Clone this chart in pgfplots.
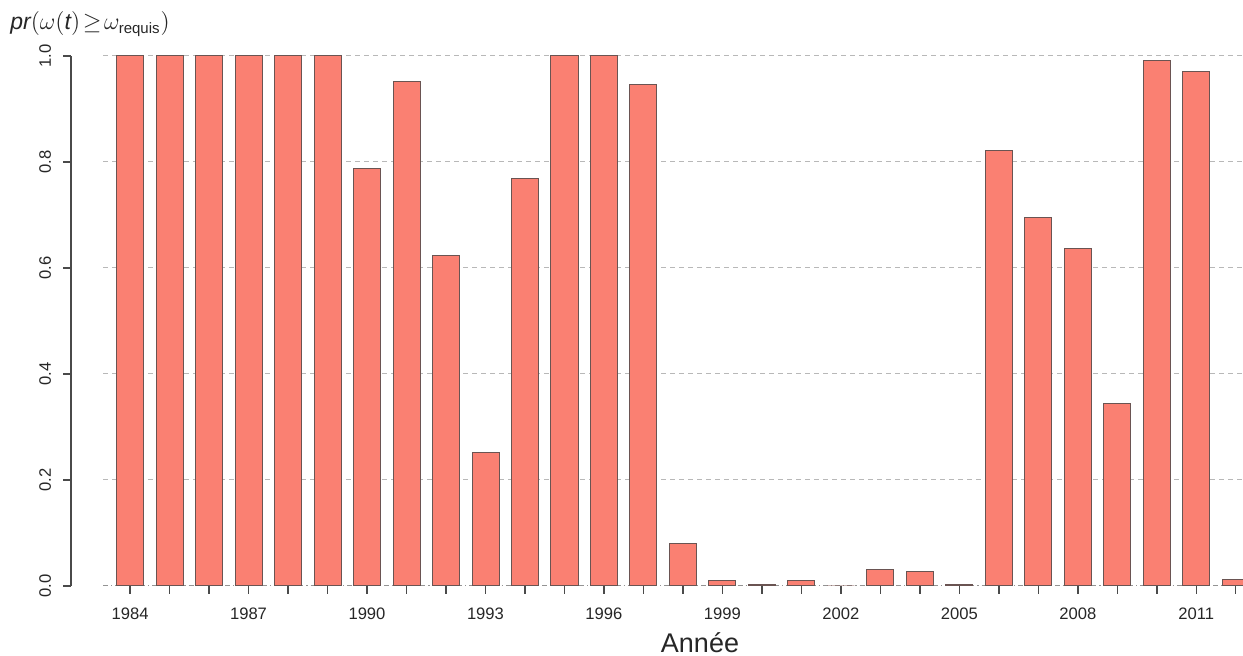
\documentclass[border=0pt]{standalone}
\usepackage{fontspec}
\setmainfont{Liberation Sans}
\usepackage{pgfplots}
\pgfplotsset{compat=1.18}
\definecolor{barfill}{HTML}{FA8072}
\definecolor{bardraw}{HTML}{6A5452}
\definecolor{gridc}{HTML}{B8B8B8}
\definecolor{txt}{HTML}{262626}
\definecolor{axc}{HTML}{4A4A4A}
\begin{document}
\begin{tikzpicture}
\useasboundingbox (0pt,0pt) rectangle (621.5pt,328pt);
\begin{axis}[
  name=ax,
  at={(36pt,35pt)}, anchor=south west,
  scale only axis, width=585.5pt, height=265pt,
  xmin=1982.53, xmax=2012.18, ymin=0, ymax=1,
  axis line style={draw=none},
  clip=true,
  xtick={1984,...,2012},
  xticklabels={1984,,,1987,,,1990,,,1993,,,1996,,,1999,,,2002,,,2005,,,2008,,,2011,},
  ytick={0,0.2,0.4,0.6,0.8,1.0},
  yticklabel style={xshift=-3pt, rotate=90, anchor=south},
  y tick label style={/pgf/number format/fixed, /pgf/number format/fixed zerofill, /pgf/number format/precision=1},
  /pgf/number format/assume math mode=true,
  xtick pos=bottom, ytick pos=left,
  tick align=outside,
  major tick length=4pt,
  xtick style={color=axc, line width=0.7pt},
  ytick style={draw=none},
  ticklabel style={font=\fontsize{8.3}{9}\selectfont, text=txt},
  xticklabel style={yshift=-3.5pt},
]
\pgfplotsinvokeforeach{0.2,0.4,0.6,0.8,1.0}{
  \draw[gridc, dash pattern=on 2.5pt off 2pt, line width=0.5pt] (axis cs:1983.32,#1) -- (axis cs:2012.3,#1);
}
\draw[gridc!80!black, dash pattern=on 2.5pt off 1.5pt on 0.6pt off 1.5pt, line width=0.6pt] (axis cs:1983.32,0) -- (axis cs:2012.3,0);
\addplot[ybar, bar width=0.684, fill=barfill, draw=bardraw, line width=0.5pt] coordinates {
(1984,1.0) (1985,1.0) (1986,1.0) (1987,1.0) (1988,1.0) (1989,1.0)
(1990,0.787) (1991,0.951) (1992,0.623) (1993,0.251) (1994,0.768)
(1995,1.0) (1996,1.0) (1997,0.947) (1998,0.081) (1999,0.011)
(2000,0.003) (2001,0.011) (2002,0.0) (2003,0.032) (2004,0.028)
(2005,0.003) (2006,0.821) (2007,0.696) (2008,0.636) (2009,0.345)
(2010,0.992) (2011,0.970) (2012,0.013)
};
\end{axis}
\draw[axc, line width=0.8pt] (35.5pt,35pt) -- (35.5pt,300pt);
\foreach \yy in {35,88,141,194,247,300} {
  \draw[axc, line width=0.8pt] (31.5pt,\yy pt) -- (35.5pt,\yy pt);
}
\node[anchor=base west, text=txt, font=\fontsize{11.5}{13}\selectfont, inner sep=0pt] at (5pt,313pt)
  {\itshape pr$\bigl(\omega($t$)\!\geq\!\omega_{\mbox{\upshape\fontsize{7.5}{8}\selectfont requis}}\bigr)$};
\node[anchor=base, text=txt, font=\fontsize{13.5}{15}\selectfont] at (350pt,1.5pt) {Année};
\end{tikzpicture}
\end{document}
